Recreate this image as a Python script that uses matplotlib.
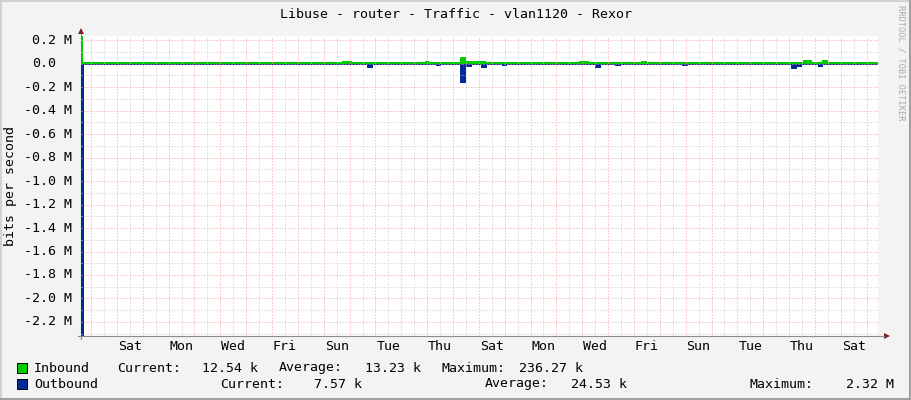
# -*- coding: utf-8 -*-
import numpy as np
import matplotlib
matplotlib.use('Agg')
import matplotlib.pyplot as plt
import matplotlib.patches as mppatches
import matplotlib.lines as mlines
from matplotlib.transforms import blended_transform_factory

W, H = 911, 400

# ---- data (days since left edge, bits per second) ----
x_end = 30.83

in_base = 12.54e3
in_start = [0.00, 10.10, 13.31, 14.66, 14.89, 19.26, 21.66, 27.93, 28.66]
in_end = [0.09, 10.48, 13.46, 14.89, 15.67, 19.65, 21.90, 28.28, 28.90]
in_peak = [236.27e3, 26e3, 24e3, 60e3, 24e3, 26e3, 24e3, 28e3, 28e3]

out_base = 13e3
out_start = [0.00, 11.06, 13.73, 14.66, 14.89, 15.47, 16.29, 19.88, 20.66,
             23.25, 27.47, 27.70, 28.51]
out_end = [0.12, 11.30, 13.93, 14.89, 15.13, 15.71, 16.48, 20.12, 20.89,
           23.48, 27.70, 27.89, 28.70]
out_peak = [2.32e6, 38e3, 22e3, 165e3, 30e3, 34e3, 20e3, 38e3, 22e3,
            20e3, 45e3, 24e3, 24e3]

day_labels = ['Sat', 'Mon', 'Wed', 'Fri', 'Sun', 'Tue', 'Thu', 'Sat',
              'Mon', 'Wed', 'Fri', 'Sun', 'Tue', 'Thu', 'Sat']
first_label_day = 1.89
first_midnight = 0.39

ytick_vals = [0.2, 0.0, -0.2, -0.4, -0.6, -0.8, -1.0, -1.2, -1.4, -1.6,
              -1.8, -2.0, -2.2]
ytick_text = ['0.2 M', '0.0', '-0.2 M', '-0.4 M', '-0.6 M', '-0.8 M',
              '-1.0 M', '-1.2 M', '-1.4 M', '-1.6 M', '-1.8 M', '-2.0 M',
              '-2.2 M']

in_stats = ['12.54 k', '13.23 k', '236.27 k']
out_stats = ['7.57 k', '24.53 k', '2.32 M']

title = 'Libuse - router - Traffic - vlan1120 - Rexor'

ymin, ymax = -2.32e6, 0.23627e6

MONO = 'DejaVu Sans Mono'
FS = 9.5
BG = '#F3F3F3'
C_IN = '#00CC00'
C_OUT = '#002A97'
C_MGRID = '#F0A0A0'
C_GRID = '#C8C8C8'


def step_series(starts, ends, peaks, base):
    edges = sorted(set([0.0, x_end] + list(starts) + list(ends)))
    vals = []
    for a, b in zip(edges[:-1], edges[1:]):
        mid = 0.5 * (a + b)
        v = base
        for s, e, p in zip(starts, ends, peaks):
            if s <= mid < e:
                v = max(v, p)
        vals.append(v)
    vals.append(vals[-1])
    return np.array(edges), np.array(vals)


def fx(x):
    return x / W


def fy(y):
    return 1 - y / H


fig = plt.figure(figsize=(W / 100, H / 100), dpi=100, facecolor=BG)
ax = fig.add_axes([fx(81), fy(336), 797 / W, 300 / H])
ax.set_facecolor('white')
for s in ax.spines.values():
    s.set_visible(False)
ax.set_xlim(0, x_end)
ax.set_ylim(ymin, ymax)
ax.set_xticks([])
ax.set_yticks([])

axis_col = '#8C8C8C'
arrow_col = '#7F1F1F'

# y axis line below the data
ax.add_line(mlines.Line2D([0, 0], [-3 / 300, 1 + 3 / 300],
                          transform=ax.transAxes, color=axis_col, lw=0.8,
                          clip_on=False, zorder=1))

# data
xi, yi = step_series(in_start, in_end, in_peak, in_base)
xo, yo = step_series(out_start, out_end, out_peak, out_base)
ax.fill_between(xi, 0, yi, step='post', color=C_IN, linewidth=0, zorder=2)
ax.fill_between(xo, 0, -yo, step='post', color=C_OUT, linewidth=0, zorder=2)

# grid (dotted, on top of data like rrdtool)
dots = (0, (1, 2))
for k in range(0, 32):
    d = first_midnight + k
    if d < x_end:
        ax.axvline(d, color=C_MGRID, lw=0.72, ls=dots, zorder=3)
    d2 = first_midnight + 0.5 + k
    if d2 < x_end:
        ax.axvline(d2, color=C_GRID, lw=0.72, ls=dots, zorder=3)
for v in np.arange(-23, 3):
    val = v * 0.1e6
    if val < ymin or val > ymax:
        continue
    col = C_MGRID if v % 2 == 0 else C_GRID
    ax.axhline(val, color=col, lw=0.72, ls=dots, zorder=3)

# y tick labels
tr = blended_transform_factory(ax.transAxes, ax.transData)
for v, t in zip(ytick_vals, ytick_text):
    xr = 72 if t.endswith('M') else 56
    ax.text((xr - 81) / 797, v * 1e6, t, transform=tr, ha='right',
            va='center', family=MONO, fontsize=FS, color='black')

# x tick labels
tr2 = blended_transform_factory(ax.transData, fig.transFigure)
for i, lab in enumerate(day_labels):
    ax.text(first_label_day + 2 * i, fy(347), lab, transform=tr2,
            ha='center', va='center', family=MONO, fontsize=FS)

# x axis and arrows
fig.add_artist(mlines.Line2D([fx(78), fx(884)], [fy(336), fy(336)],
                             color=axis_col, lw=0.8))
fig.add_artist(mppatches.Polygon([[fx(884), fy(333)], [fx(890), fy(336)],
                                  [fx(884), fy(339)]], closed=True,
                                 color=arrow_col, lw=0))
fig.add_artist(mppatches.Polygon([[fx(78), fy(34)], [fx(81), fy(28)],
                                  [fx(84), fy(34)]], closed=True,
                                 color=arrow_col, lw=0))

# title, axis label, credit
fig.text(0.5, fy(14), title, ha='center', va='center', family=MONO,
         fontsize=FS)
fig.text(fx(11), fy(186), 'bits per second', rotation=90, ha='center',
         va='center', family=MONO, fontsize=FS)
fig.text(fx(901), fy(5), 'RRDTOOL / TOBI OETIKER', rotation=-90,
         ha='center', va='top', family=MONO, fontsize=6.2, color='#AAAAAA')

# legend
for yy, col in [(368, C_IN), (384, C_OUT)]:
    fig.add_artist(mppatches.Rectangle((fx(17), fy(yy + 5)), 10 / W, 10 / H,
                                       facecolor=col, edgecolor='black',
                                       lw=0.7))


def lt(x, y, s, ha='left'):
    fig.text(fx(x), fy(y), s, ha=ha, va='center', family=MONO, fontsize=FS)


lt(34, 368, 'Inbound')
lt(117, 368, 'Current:')
lt(258, 368, in_stats[0], ha='right')
lt(279, 368, 'Average:')
lt(421, 368, in_stats[1], ha='right')
lt(441, 368, 'Maximum:')
lt(583, 368, in_stats[2], ha='right')

lt(34, 384, 'Outbound')
lt(220, 384, 'Current:')
lt(362, 384, out_stats[0], ha='right')
lt(485, 384, 'Average:')
lt(627, 384, out_stats[1], ha='right')
lt(749, 384, 'Maximum:')
lt(894, 384, out_stats[2], ha='right')

# 3d border
fig.add_artist(mlines.Line2D([0, 1], [fy(0.5), fy(0.5)], color='#D2D2D2', lw=1.4))
fig.add_artist(mlines.Line2D([fx(0.5), fx(0.5)], [0, 1], color='#D2D2D2', lw=1.4))
fig.add_artist(mlines.Line2D([0, 1], [fy(398.5), fy(398.5)], color='#A0A0A0', lw=2.2))
fig.add_artist(mlines.Line2D([fx(909.5), fx(909.5)], [0, 1], color='#A0A0A0', lw=2.2))

fig.savefig('out.png', dpi=100, facecolor=BG)
